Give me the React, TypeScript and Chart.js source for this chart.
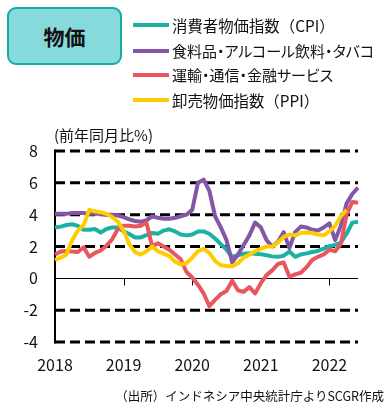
import React, { useEffect, useRef } from "react";
import { Chart, registerables } from "chart.js";

Chart.register(...registerables);

const months: string[] = [
  "2018/01", "2018/02", "2018/03", "2018/04", "2018/05", "2018/06", "2018/07", "2018/08", "2018/09", "2018/10", "2018/11", "2018/12",
  "2019/01", "2019/02", "2019/03", "2019/04", "2019/05", "2019/06", "2019/07", "2019/08", "2019/09", "2019/10", "2019/11", "2019/12",
  "2020/01", "2020/02", "2020/03", "2020/04", "2020/05", "2020/06", "2020/07", "2020/08", "2020/09", "2020/10", "2020/11", "2020/12",
  "2021/01", "2021/02", "2021/03", "2021/04", "2021/05", "2021/06", "2021/07", "2021/08", "2021/09", "2021/10", "2021/11", "2021/12",
  "2022/01", "2022/02", "2022/03", "2022/04", "2022/05", "2022/06",
];

const cpi: (number | null)[] = [
  3.19, 3.25, 3.35, 3.4, 3.3, 3.05, 3.05, 3.1, 2.88, 3.1, 3.2, 3.2,
  2.95, 2.78, 2.57, 2.57, 2.72, 2.85, 2.8, 3.0, 3.08, 2.95, 2.75, 2.7,
  2.75, 2.95, 2.95, 2.8, 2.5, 2.15, 1.8, 1.35, 1.45, 1.55, 1.57, 1.55,
  1.52, 1.45, 1.38, 1.35, 1.42, 1.68, 1.35, 1.5, 1.57, 1.65, 1.72, 1.87,
  2.02, 2.1, 2.25, 2.8, 3.5, 3.55,
];

const food: (number | null)[] = [
  4.05, 4.05, 4.05, 4.1, 4.1, 4.1, 4.05, 4.05, 4.05, 4.0, 4.0, 3.95,
  3.85, 3.7, 3.6, 3.55, 3.65, 3.9, 3.8, 3.75, 3.75, 3.8, 3.9, 4.0,
  4.3, 6.0, 6.2, 5.5, 3.9, 3.2, 2.4, 1.0, 1.5, 2.1, 2.7, 3.5,
  3.2, 2.4, 2.0, 2.3, 2.9, 1.9, 2.9, 3.25, 3.2, 3.05, 3.0, 3.2,
  3.45, 2.4, 3.3, 4.7, 5.3, 5.7,
];

const transport: (number | null)[] = [
  1.5, 1.68, 1.72, 1.68, 1.65, 1.95, 1.35, 1.6, 1.75, 2.05, 2.45, 3.1,
  3.3, 3.3, 3.25, 3.3, 3.5, 2.0, 2.2, 2.0, 1.8, 1.5, 1.2, 0.4,
  0.05, -0.4, -0.95, -1.75, -1.35, -1.0, -0.8, -0.15, -0.75, -0.85, -0.55, -0.95,
  -0.3, 0.2, 0.5, 0.9, 1.0, 0.1, 0.25, 0.35, 0.7, 1.15, 1.35, 1.5,
  1.8, 1.7, 2.15, 4.0, 4.8, 4.75,
];

const ppi: (number | null)[] = [
  1.15, 1.3, 1.5, 2.4, 3.0, 3.35, 4.3, 4.2, 4.15, 4.05, 3.85, 3.55,
  3.0, 2.15, 1.65, 1.5, 1.7, 2.0, 1.7, 1.55, 1.4, 1.05, 0.87, 0.95,
  1.3, 1.7, 1.85, 1.6, 1.1, 0.82, 0.78, 0.76, 0.95, 1.3, 1.5, 1.7,
  1.85, 2.0, 2.0, 2.25, 2.6, 2.75, 2.7, 2.85, 2.88, 2.85, 2.75, 2.7,
  2.95, 3.3, 3.9, 4.3, null, null,
];

const seriesNames = [
  "消費者物価指数（CPI）",
  "食料品・アルコール飲料・タバコ",
  "運輸・通信・金融サービス",
  "卸売物価指数（PPI）",
];
const seriesColors = ["#1BB2A2", "#8257A8", "#E8565F", "#FFCC00"];
const yTicks = [-4, -2, 0, 2, 4, 6, 8];
const dashedGridValues = [8, 6, 4, 2, -2, -4];

const FONT = '"Noto Sans CJK JP", "Noto Sans", sans-serif';

const gridPlugin = {
  id: "refGrid",
  beforeDatasetsDraw(chart: any) {
    const { ctx, chartArea: a, scales } = chart;
    const y = scales.y;
    const x = scales.x;
    ctx.save();
    ctx.strokeStyle = "#000";
    ctx.lineWidth = 3;
    ctx.setLineDash([10, 5]);
    for (const v of dashedGridValues) {
      const py = y.getPixelForValue(v);
      ctx.beginPath();
      ctx.moveTo(a.left, py);
      ctx.lineTo(a.right, py);
      ctx.stroke();
    }
    ctx.setLineDash([]);
    ctx.lineWidth = 1;
    const y0 = Math.round(y.getPixelForValue(0)) + 0.5;
    ctx.beginPath();
    ctx.moveTo(a.left, y0);
    ctx.lineTo(a.right, y0);
    ctx.stroke();
    x.ticks.forEach((t: any, i: number) => {
      const lbl = Array.isArray(t.label) ? t.label.join("") : t.label;
      if (lbl && lbl !== "" && i !== 0) {
        const px = Math.round(x.getPixelForTick(i)) + 0.5;
        ctx.beginPath();
        ctx.moveTo(px, y0);
        ctx.lineTo(px, y0 + 7);
        ctx.stroke();
      }
    });
    ctx.lineWidth = 2;
    ctx.beginPath();
    ctx.moveTo(a.left, a.top - 1.5);
    ctx.lineTo(a.left, a.bottom + 1.5);
    ctx.stroke();
    ctx.restore();
  },
};

export default function App() {
  const ref = useRef<HTMLCanvasElement | null>(null);

  useEffect(() => {
    if (!ref.current) return;
    const series = [cpi, food, transport, ppi];
    const orders = [3, 2, 1, 0];
    const chart = new Chart(ref.current, {
      type: "line",
      data: {
        labels: months,
        datasets: series.map((d, i) => ({
          label: seriesNames[i],
          data: d,
          borderColor: seriesColors[i],
          backgroundColor: seriesColors[i],
          borderWidth: 4,
          pointRadius: 0,
          tension: 0,
          borderJoinStyle: "round" as const,
          borderCapStyle: "butt" as const,
          spanGaps: false,
          order: orders[i],
        })),
      },
      options: {
        animation: false,
        responsive: false,
        maintainAspectRatio: false,
        layout: { padding: { left: 0, top: 151, right: 27, bottom: 0 } },
        plugins: {
          legend: { display: false },
          tooltip: { enabled: false },
          title: { display: false },
        },
        scales: {
          x: {
            type: "category",
            offset: false,
            grid: { display: false, drawTicks: false },
            border: { display: false },
            ticks: {
              autoSkip: false,
              maxRotation: 0,
              minRotation: 0,
              padding: 13,
              color: "#111",
              font: { family: FONT, size: 16 },
              callback: function (this: any, value: any) {
                const lab = String(this.getLabelForValue(value));
                return lab.endsWith("/01") ? lab.slice(0, 4) : "";
              },
            },
            afterFit: (s: any) => {
              s.height = 69;
            },
          },
          y: {
            min: -4,
            max: 8,
            grid: { display: false, drawTicks: false },
            border: { display: false },
            afterBuildTicks: (s: any) => {
              s.ticks = yTicks.map((v) => ({ value: v }));
            },
            ticks: {
              padding: 17,
              color: "#111",
              font: { family: FONT, size: 16 },
            },
            afterFit: (s: any) => {
              s.width = 55;
            },
          },
        },
      },
      plugins: [gridPlugin],
    });
    return () => chart.destroy();
  }, []);

  const legendTops = [25, 50.5, 74.5, 99.5];
  const legendPalt = [false, true, true, false];

  return (
    <div style={{ position: "absolute", left: 0, top: 0, width: 385, height: 411, background: "#fff", fontFamily: FONT, color: "#111" }}>
      <canvas ref={ref} width={385} height={411} style={{ position: "absolute", left: 0, top: 0, width: 385, height: 411 }} />
      <div
        style={{
          position: "absolute",
          left: 7,
          top: 7,
          width: 115,
          height: 58,
          boxSizing: "border-box",
          border: "2.5px solid #19AAA0",
          borderRadius: 9,
          background: "#87DADC",
          display: "flex",
          alignItems: "center",
          justifyContent: "center",
          fontWeight: 700,
          fontSize: 21,
          color: "#111",
        }}
      >
        物価
      </div>
      {seriesNames.map((n, i) => (
        <div key={n} style={{ position: "absolute", left: 133, top: legendTops[i] - 10, height: 20, display: "flex", alignItems: "center", whiteSpace: "nowrap" }}>
          <div style={{ width: 36, height: 4, background: seriesColors[i], marginRight: 3 }} />
          <span
            style={{
              fontSize: legendPalt[i] ? 15 : 15.4,
              lineHeight: "20px",
              fontFeatureSettings: legendPalt[i] ? '"palt"' : "normal",
            }}
          >
            {n}
          </span>
        </div>
      ))}
      <div style={{ position: "absolute", left: 54, top: 125, fontSize: 15, lineHeight: "20px", whiteSpace: "nowrap" }}>(前年同月比%)</div>
      <div style={{ position: "absolute", right: 1, top: 387, fontSize: 12.5, lineHeight: "18px", whiteSpace: "nowrap" }}>
        （出所）インドネシア中央統計庁よりSCGR作成
      </div>
    </div>
  );
}
